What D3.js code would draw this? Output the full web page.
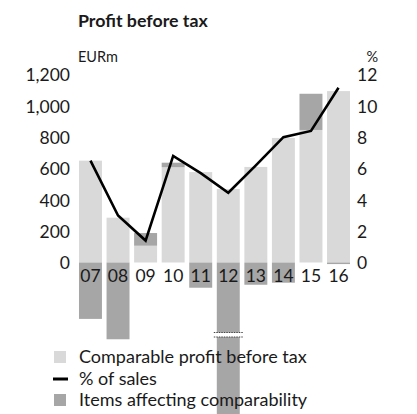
<!DOCTYPE html>
<html><head><meta charset="utf-8">
<script src="https://cdn.jsdelivr.net/npm/d3@7"></script>
<style>
html,body{margin:0;padding:0;background:#fff;}
svg{display:block;font-family:Lato,"DejaVu Sans",sans-serif;}
</style></head>
<body><svg id="c" width="417" height="414"></svg>
<script>
const years = ["07","08","09","10","11","12","13","14","15","16"];
const comparable = [650, 286, 107, 608, 577, 469, 610, 795, 846, 1094];
const items = [-360, -490, 81, 29, -161, -1000, -142, -129, 231, -10];
const pctSales = [6.5, 3.0, 1.4, 6.8, 5.7, 4.45, 6.2, 8.0, 8.4, 11.15];
const leftTicks = [0, 200, 400, 600, 800, 1000, 1200];
const rightTicks = [0, 2, 4, 6, 8, 10, 12];
const legendLabels = ["Comparable profit before tax", "% of sales", "Items affecting comparability"];
const brokenYear = "12";

const LIGHT = "#d9d9d9", DARK = "#a6a6a6", INK = "#1a1a1a";
const svg = d3.select("#c");

const x = d3.scaleBand().domain(years).range([76.7, 352.3]).paddingInner(0.167).paddingOuter(0.083);
const y = d3.scaleLinear().domain([0, 1200]).range([262.5, 74.5]);
const yR = d3.scaleLinear().domain([0, 12]).range([262.5, 74.5]);

// comparable bars
svg.append("g").selectAll("rect").data(years).join("rect")
  .attr("x", d => x(d)).attr("width", x.bandwidth())
  .attr("y", (d,i) => y(comparable[i]))
  .attr("height", (d,i) => y(0) - y(comparable[i]))
  .attr("fill", LIGHT);

// items bars
svg.append("g").selectAll("rect").data(years).join("rect")
  .attr("x", d => x(d)).attr("width", x.bandwidth())
  .attr("y", (d,i) => items[i] >= 0 ? y(comparable[i] + items[i]) : y(0))
  .attr("height", (d,i) => items[i] >= 0 ? y(comparable[i]) - y(comparable[i] + items[i]) : y(items[i]) - y(0))
  .attr("fill", DARK);

// axis break on the long bar
const bx = x(brokenYear);
const bg = svg.append("g");
bg.append("rect").attr("x", bx - 3).attr("y", 332.5).attr("width", x.bandwidth() + 6).attr("height", 4.5).attr("fill", "#fff");
[332.5, 337].forEach(yy => bg.append("line")
  .attr("x1", bx - 3).attr("x2", bx + x.bandwidth() + 3).attr("y1", yy).attr("y2", yy)
  .attr("stroke", "#444").attr("stroke-width", 1).attr("stroke-dasharray", "1.5,1"));

// left axis
const la = svg.append("g").attr("transform", "translate(70,0)")
  .call(d3.axisLeft(y).tickValues(leftTicks).tickSize(0).tickPadding(0).tickFormat(d3.format(",")));
la.select(".domain").remove();
la.selectAll("text").attr("font-size", 17.5).attr("fill", INK).attr("font-family", "Lato, sans-serif").attr("dy", "0.36em");

// right axis
const ra = svg.append("g").attr("transform", "translate(357,0)")
  .call(d3.axisRight(yR).tickValues(rightTicks).tickSize(0).tickPadding(0));
ra.select(".domain").remove();
ra.selectAll("text").attr("font-size", 17.5).attr("fill", INK).attr("font-family", "Lato, sans-serif").attr("dy", "0.36em");

// category labels
const ca = svg.append("g").attr("transform", "translate(0,262.5)")
  .call(d3.axisBottom(x).tickSize(0).tickPadding(0));
ca.select(".domain").remove();
ca.selectAll("text").attr("font-size", 17.5).attr("fill", INK).attr("font-family", "Lato, sans-serif").attr("dy", "1.1em");

// line
svg.append("path")
  .datum(years)
  .attr("fill", "none").attr("stroke", "#000").attr("stroke-width", 2.6)
  .attr("stroke-linejoin", "miter")
  .attr("d", d3.line().x(d => x(d) + x.bandwidth()/2).y((d,i) => yR(pctSales[i])));

// titles
svg.append("text").attr("x", 78).attr("y", 26.5).attr("font-size", 17.8).attr("font-weight", "bold").attr("fill", INK).text("Profit before tax");
svg.append("text").attr("x", 78).attr("y", 61.5).attr("font-size", 14.5).attr("fill", INK).text("EURm");
svg.append("text").attr("x", 378).attr("y", 61.5).attr("font-size", 14.5).attr("fill", INK).attr("text-anchor", "end").text("%");

// legend
const lg = svg.append("g");
const ly = [357, 379, 400];
lg.append("rect").attr("x", 54).attr("y", ly[0] - 6).attr("width", 12).attr("height", 12).attr("fill", LIGHT);
lg.append("line").attr("x1", 53).attr("x2", 68).attr("y1", ly[1]).attr("y2", ly[1]).attr("stroke", "#000").attr("stroke-width", 3);
lg.append("rect").attr("x", 54).attr("y", ly[2] - 6).attr("width", 12).attr("height", 12).attr("fill", DARK);
lg.selectAll("text").data(legendLabels).join("text")
  .attr("x", 79).attr("y", (d,i) => ly[i]).attr("dy", "0.36em")
  .attr("font-size", 18).attr("fill", INK).text(d => d);
</script></body></html>
